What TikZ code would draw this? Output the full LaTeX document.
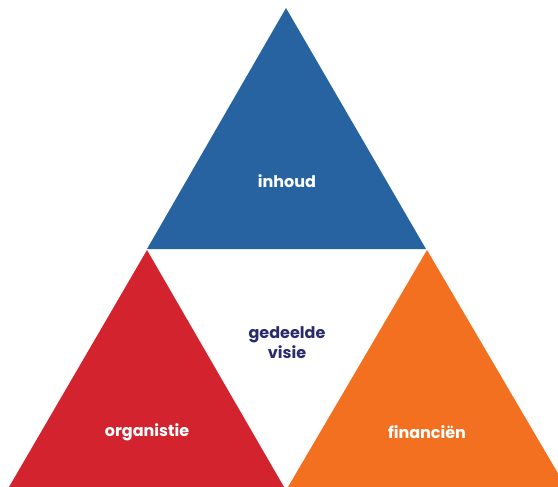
\documentclass[tikz,border=0pt]{standalone}
\usepackage{fontspec}
\setmainfont{Poppins}
\definecolor{cblue}{HTML}{2763A1}
\definecolor{cred}{HTML}{D2232E}
\definecolor{corange}{HTML}{F37021}
\definecolor{cnavy}{HTML}{2B2A6B}
\begin{document}
\begin{tikzpicture}[x=1pt,y=-1pt,
  lbl/.style={text=white,font=\bfseries\fontsize{16}{20}\selectfont,align=center},
  mid/.style={text=cnavy,font=\bfseries\fontsize{16}{20}\selectfont,align=center}]
\useasboundingbox (0,0) rectangle (558,487);
\clip (0,0) rectangle (558,487);
\fill[cblue] (286,8) -- (426,249) -- (147,249) -- cycle;
\fill[cred] (147,250) -- (284,487) -- (9,487) -- cycle;
\fill[corange] (427,250) -- (566,487) -- (288,487) -- cycle;
\node[lbl] (inhoud) at (287,181) {inhoud};
\node[lbl] (org) at (147,432) {organistie};
\node[lbl] (fin) at (427,432) {financiën};
\node[mid] (visie) at (287,343) {gedeelde\\visie};
\end{tikzpicture}
\end{document}
